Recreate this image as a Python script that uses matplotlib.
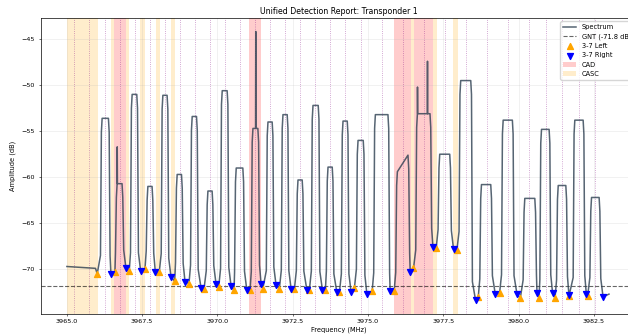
import matplotlib
matplotlib.use("Agg")
import matplotlib.pyplot as plt
import numpy as np

# carrier edges (MHz) and top levels (dB)
rise_mhz = [3966.130, 3966.628, 3967.127, 3967.649, 3968.147, 3968.622, 3969.121, 3969.643, 3970.118, 3970.583,
            3971.138, 3971.637, 3972.135, 3972.634, 3973.132, 3973.631, 3974.129, 3974.628, 3975.203, 3975.934,
            3976.599, 3977.340, 3978.037, 3978.726, 3979.447, 3980.165, 3980.720, 3981.275, 3981.826, 3982.381]
fall_mhz = [3966.419, 3966.871, 3967.360, 3967.868, 3968.367, 3968.845, 3969.344, 3969.862, 3970.361, 3970.882,
            3971.381, 3971.856, 3972.355, 3972.853, 3973.385, 3973.850, 3974.349, 3974.880, 3975.701, 3976.366,
            3977.097, 3977.752, 3978.450, 3979.114, 3979.832, 3980.577, 3981.052, 3981.607, 3982.182, 3982.713]
top_left_db = [-53.6, -60.7, -51.0, -61.0, -51.1, -59.7, -53.4, -61.5, -50.6, -59.0,
               -54.7, -54.0, -53.2, -60.3, -52.2, -58.9, -53.9, -56.0, -53.2, -59.4,
               -53.1, -57.5, -49.5, -60.8, -53.8, -62.3, -54.8, -60.9, -53.8, -62.2]
top_right_db = [-53.6, -60.7, -51.0, -61.0, -51.1, -59.7, -53.4, -61.5, -50.6, -59.0,
                -54.7, -54.0, -53.2, -60.3, -52.2, -58.9, -53.9, -56.0, -53.2, -57.6,
                -53.1, -57.5, -49.5, -60.8, -53.8, -62.3, -54.8, -60.9, -53.8, -62.2]

# narrow spurs sitting on some carriers
spike_mhz = [3966.672, 3971.271, 3976.642, 3976.974]
spike_db = [-56.7, -44.16, -50.2, -47.4]

# 3-7 dB points
left_mhz = [3966.007, 3966.595, 3967.070, 3967.592, 3968.067, 3968.579, 3969.054, 3969.553, 3970.042, 3970.550,
            3971.082, 3971.504, 3972.056, 3972.554, 3973.053, 3973.584, 3974.050, 3974.548, 3975.136, 3975.867,
            3976.509, 3977.263, 3977.951, 3978.659, 3979.367, 3980.055, 3980.676, 3981.208, 3981.673, 3982.291]
left_db = [-70.5, -70.26, -70.2, -70.0, -70.3, -71.3, -71.55, -72.15, -71.9, -72.3,
           -72.25, -72.15, -72.1, -72.15, -72.2, -72.2, -72.5, -72.0, -72.4, -72.35,
           -69.9, -67.7, -67.9, -73.05, -72.6, -73.15, -73.15, -73.15, -72.9, -72.9]
right_mhz = [3966.462, 3966.961, 3967.449, 3967.935, 3968.456, 3968.922, 3969.453, 3969.952, 3970.450, 3970.972,
             3971.447, 3971.946, 3972.445, 3972.966, 3973.485, 3973.963, 3974.438, 3974.960, 3975.734, 3976.399,
             3977.154, 3977.838, 3978.569, 3979.224, 3979.945, 3980.610, 3981.128, 3981.673, 3982.248, 3982.803]
right_db = [-70.55, -69.9, -70.2, -70.25, -70.8, -71.35, -72.0, -71.6, -71.8, -72.2,
            -71.55, -71.75, -72.15, -72.2, -72.25, -72.5, -72.5, -72.65, -72.4, -70.25,
            -67.55, -67.8, -73.35, -72.7, -72.7, -72.6, -72.6, -72.8, -72.7, -73.0]

gnt_db = -71.8

# channel centre markers
cf_mhz = [3965.25, 3965.75, 3966.25, 3966.75, 3967.25, 3967.75, 3968.25, 3968.75, 3969.25, 3969.75,
          3970.25, 3970.75, 3971.25, 3971.75, 3972.25, 3972.75, 3973.25, 3973.75, 3974.25, 3974.75,
          3975.45, 3976.15, 3976.85, 3977.55, 3978.25, 3978.95, 3979.65, 3980.35, 3980.90, 3981.45,
          3982.00, 3982.55]

cad_start = [3966.58, 3971.05, 3975.87, 3976.53]
cad_stop = [3966.95, 3971.43, 3976.42, 3977.15]
casc_start = [3965.00, 3966.46, 3966.95, 3967.43, 3967.96, 3968.47, 3976.42, 3977.15, 3977.83]
casc_stop = [3966.04, 3966.58, 3967.07, 3967.59, 3968.09, 3968.58, 3976.53, 3977.30, 3977.98]

# build the spectrum trace from the carrier table
freq = [3965.0, 3965.5, 3965.95]
amp = [-69.7, -69.8, -69.9]
for i in range(len(rise_mhz)):
    r, f = rise_mhz[i], fall_mhz[i]
    tl, tr = top_left_db[i], top_right_db[i]
    freq += [left_mhz[i], r - 0.015, r + 0.015, r + 0.04, f - 0.04, f - 0.015, f + 0.015, right_mhz[i]]
    amp += [left_db[i], left_db[i] + 2, tl - 1.5, tl, tr, tr - 1.5, right_db[i] + 2, right_db[i]]
freq.append(3983.0)
amp.append(-72.7)

base_f = np.array(freq)
base_a = np.array(amp)
for sf, sd in zip(spike_mhz, spike_db):
    base = np.interp(sf, base_f, base_a)
    freq += [sf - 0.006, sf, sf + 0.006]
    amp += [base, sd, base]

order = np.argsort(freq, kind="stable")
freq = np.array(freq)[order]
amp = np.array(amp)[order]

fig = plt.figure(figsize=(6.28, 3.35), dpi=100)
ax = fig.add_axes([0.0648, 0.0627, 0.9495, 0.8836])

for i in range(len(cad_start)):
    ax.axvspan(cad_start[i], cad_stop[i], color="red", alpha=0.2, lw=0,
               label="CAD" if i == 0 else None)
for i in range(len(casc_start)):
    ax.axvspan(casc_start[i], casc_stop[i], color="orange", alpha=0.2, lw=0,
               label="CASC" if i == 0 else None)

for c in cf_mhz:
    ax.axvline(c, color="purple", ls=":", lw=0.6, alpha=0.45)

ax.plot(freq, amp, color="#2c3e50", lw=1.1, alpha=0.8, label="Spectrum", zorder=3)
ax.axhline(gnt_db, color="k", ls="--", lw=0.8, alpha=0.6, label=f"GNT ({gnt_db} dB)")
ax.scatter(left_mhz, left_db, marker="^", color="orange", s=18, zorder=5, label="3-7 Left")
ax.scatter(right_mhz, right_db, marker="v", color="blue", s=18, zorder=5, label="3-7 Right")

ax.set_xlim(3964.13, 3983.93)
ax.set_ylim(-74.86, -42.7)
ax.grid(True, alpha=0.3, lw=0.4)

ax.set_title("Unified Detection Report: Transponder 1", fontsize=5.7, pad=2.8)
ax.set_xlabel("Frequency (MHz)", fontsize=4.75, labelpad=1.9)
ax.set_ylabel("Amplitude (dB)", fontsize=4.75, labelpad=3.5)
ax.tick_params(axis="both", labelsize=4.6, length=1.7, width=0.4)
ax.tick_params(axis="x", pad=1.7)
ax.tick_params(axis="y", pad=2.5)
for s in ax.spines.values():
    s.set_linewidth(0.5)

h, l = ax.get_legend_handles_labels()
want = ["Spectrum", f"GNT ({gnt_db} dB)", "3-7 Left", "3-7 Right", "CAD", "CASC"]
hs = [h[l.index(w)] for w in want]
ax.legend(hs, want, loc="upper right", fontsize=4.75)

fig.savefig("out.png", dpi=100)
